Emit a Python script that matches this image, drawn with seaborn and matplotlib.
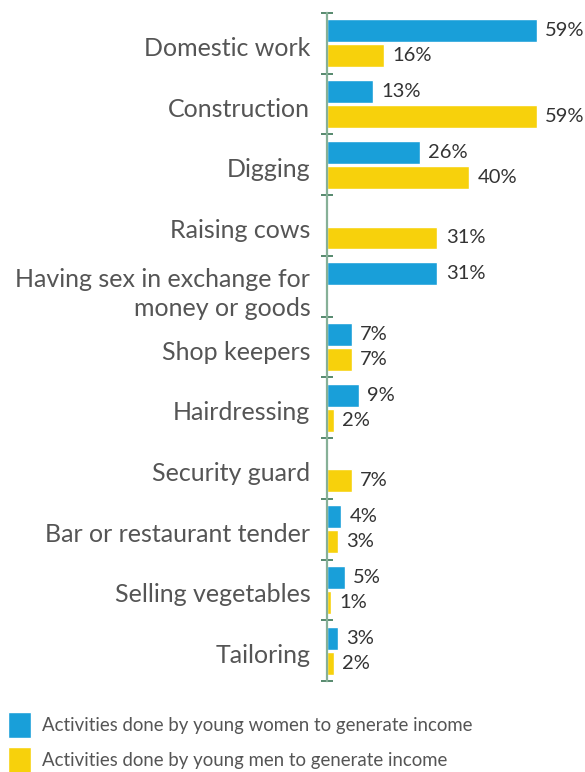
import numpy as np
import pandas as pd
import matplotlib
matplotlib.use("Agg")
import matplotlib.pyplot as plt
import matplotlib.transforms as mtransforms
import seaborn as sns

categories = [
    "Domestic work",
    "Construction",
    "Digging",
    "Raising cows",
    "Having sex in exchange for\nmoney or goods",
    "Shop keepers",
    "Hairdressing",
    "Security guard",
    "Bar or restaurant tender",
    "Selling vegetables",
    "Tailoring",
]
women = [59, 13, 26, np.nan, 31, 7, 9, np.nan, 4, 5, 3]
men = [16, 59, 40, 31, np.nan, 7, 2, 7, 3, 1, 2]
series_names = [
    "Activities done by young women to generate income",
    "Activities done by young men to generate income",
]
palette = ["#199FD9", "#F7D10C"]

df = pd.DataFrame({
    "activity": categories * 2,
    "share": women + men,
    "group": [series_names[0]] * len(categories) + [series_names[1]] * len(categories),
})

sns.set_theme(style="white")
plt.rcParams["font.family"] = ["Lato", "DejaVu Sans"]

fig = plt.figure(figsize=(5.85, 7.72), dpi=100)
ax = fig.add_axes([327 / 585, 1 - 681 / 772, 1 - 327 / 585, (681 - 13) / 772])

sns.barplot(
    data=df, x="share", y="activity", hue="group", order=categories,
    hue_order=series_names, palette=palette, width=0.82, gap=0.08,
    saturation=1, ax=ax, orient="h",
)

ax.set_xlim(0, 72.5)
ax.set_ylim(len(categories) - 0.5, -0.5)
ax.set_xlabel("")
ax.set_ylabel("")
ax.set_xticks([])

for side in ["top", "right", "bottom"]:
    ax.spines[side].set_visible(False)
ax.spines["left"].set_color("#86B097")
ax.spines["left"].set_linewidth(1.6)

ax.tick_params(axis="y", which="major", left=False, pad=6, labelsize=18, labelcolor="#555555")
ax.set_yticks(np.arange(-0.5, len(categories), 1), minor=True)
ax.tick_params(axis="y", which="minor", left=True, direction="inout", length=9, width=1.2, color="#3A7555")

# nudge category names slightly below the group centre
shift = mtransforms.ScaledTranslation(0, -3 / 100, fig.dpi_scale_trans)
for lbl in ax.get_yticklabels():
    lbl.set_linespacing(1.3)
    lbl.set_transform(lbl.get_transform() + shift)

for container in ax.containers:
    ax.bar_label(
        container, labels=[("" if np.isnan(v) else f"{v:.0f}%") for v in container.datavalues],
        padding=6, fontsize=14.5, color="#333333",
    )

sns.move_legend(
    ax, loc="upper left", bbox_to_anchor=(8 / 585, 1 - 712 / 772), bbox_transform=fig.transFigure,
    frameon=False, title=None, fontsize=13.4, handlelength=1.25, handleheight=1.75,
    handletextpad=0.55, labelspacing=0.5, borderaxespad=0, borderpad=0,
)
for t in ax.get_legend().get_texts():
    t.set_color("#555555")

fig.savefig("out.png", dpi=100)
